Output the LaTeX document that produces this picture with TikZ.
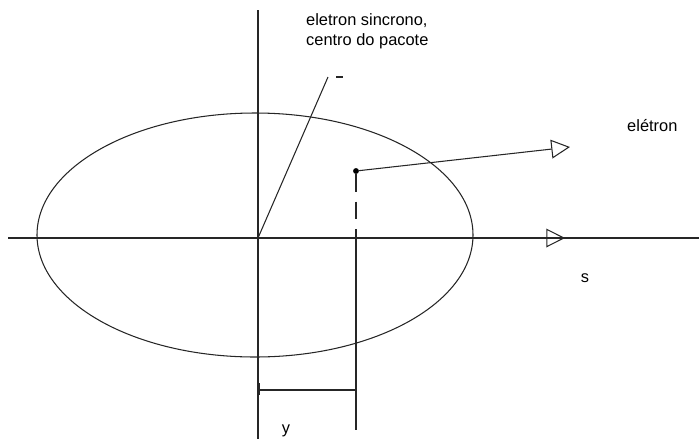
\documentclass[tikz,border=0pt]{standalone}
\usepackage{fontspec}
\setmainfont{Liberation Sans}
\usetikzlibrary{arrows.meta}
\begin{document}
\begin{tikzpicture}[
    x=0.03cm, y=-0.03cm,
    line/.style={draw=black!85, line width=0.9pt},
    dashline/.style={line, dash pattern=on 15pt off 8.5pt},
    head/.style={line, -{Triangle[open, length=16pt, width=16pt]}},
    lbl/.style={inner sep=0pt, font=\fontsize{14}{17}\selectfont},
    dot/.style={circle, fill=black, inner sep=0pt, minimum size=5pt}
]
    \useasboundingbox (0,0) rectangle (699,439);

    % eixos
    \coordinate (O) at (258,238);
    \coordinate (ytop) at (258,10);
    \coordinate (ybot) at (258,439);
    \coordinate (sleft) at (8,238);
    \coordinate (sright) at (699,238);
    \draw[line] (ytop) -- (ybot);
    \draw[line] (sleft) -- (sright);
    \coordinate (sa) at (530,238);
    \coordinate (sb) at (565,238);
    \draw[head] (sa) -- (sb);

    % pacote
    \coordinate (C) at (255,235);
    \draw[line] (C) ellipse [x radius=218, y radius=122];

    % eletron sincrono
    \coordinate (sync) at (328,77);
    \draw[line] (O) -- (sync);
    \coordinate (ta) at (336,77);
    \coordinate (tb) at (343,77);
    \draw[line] (ta) -- (tb);
    \node[lbl, anchor=west, align=left] (synclbl) at (306,31)
        {eletron sincrono,\\centro do pacote};

    % eletron
    \node[dot] (e) at (356,171) {};
    \coordinate (etip) at (570,147);
    \draw[head] (e) -- (etip);
    \node[lbl, anchor=west] (elbl) at (627,126) {elétron};

    \coordinate (eaxis) at (356,238);
    \coordinate (ebot) at (356,430);
    \draw[dashline] (e) -- (eaxis);
    \draw[line] (eaxis) -- (ebot);

    % distancia
    \coordinate (ya) at (258,390);
    \coordinate (yb) at (356,390);
    \draw[line] (ya) -- (yb);
    \coordinate (t1) at (259,383);
    \coordinate (t2) at (259,395);
    \draw[line, line width=2pt] (t1) -- (t2);

    \node[lbl] (ylbl) at (286,431) {y};
    \node[lbl] (slbl) at (585,278) {s};
\end{tikzpicture}
\end{document}
